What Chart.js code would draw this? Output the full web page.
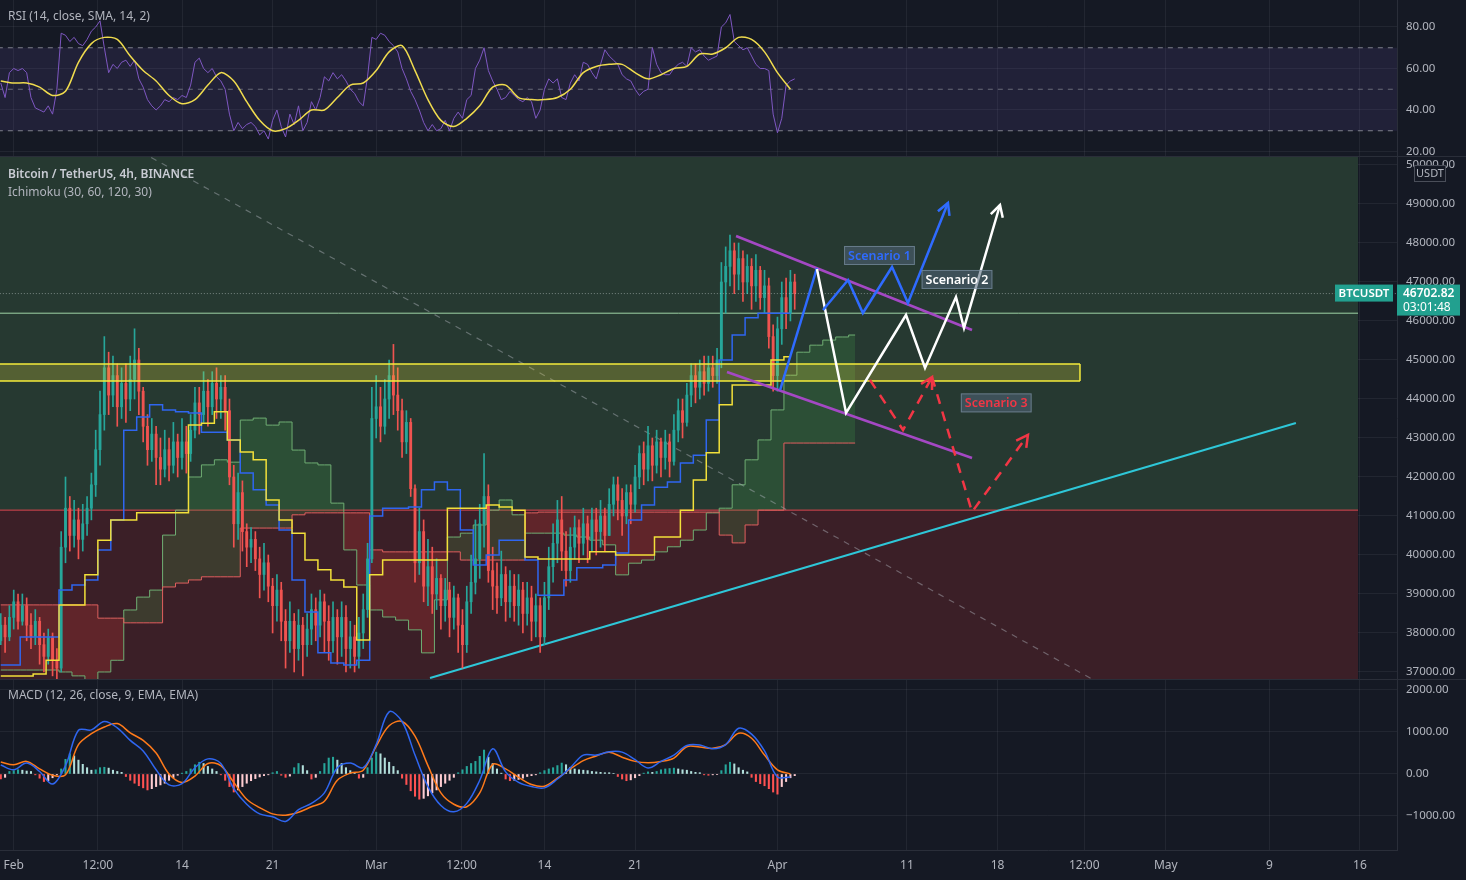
<!DOCTYPE html>
<html>
<head>
<meta charset="utf-8">
<script src="https://cdn.jsdelivr.net/npm/chart.js@4.4.1/dist/chart.umd.min.js"></script>
<style>
  html, body { margin: 0; padding: 0; background: #2a2e39; }
  body { width: 1466px; height: 880px; position: relative; overflow: hidden; font-family: "Noto Sans", sans-serif; }
  canvas { position: absolute; left: 0; background: #151924; }
  #rsi { top: 0; }
  #price { top: 157px; }
  #macd { top: 680px; }
  .title { position: absolute; left: 8px; color: #b2b5be; font-size: 12px; white-space: nowrap; }
  .title.main { color: #c8cbd3; font-weight: 600; }
</style>
</head>
<body>
<canvas id="rsi" width="1466" height="156"></canvas>
<canvas id="price" width="1466" height="522"></canvas>
<canvas id="macd" width="1466" height="200"></canvas>
<div class="title" style="top:7px">RSI (14, close, SMA, 14, 2)</div>
<div class="title main" style="top:165px">Bitcoin / TetherUS, 4h, BINANCE</div>
<div class="title" style="top:183px">Ichimoku (30, 60, 120, 30)</div>
<div class="title" style="top:686px">MACD (12, 26, close, 9, EMA, EMA)</div>
<script>
// time axis: days since Feb 1, candles every 8h starting at day -1
const xMin = -1.06, xMax = 106.86;
const tickDays = [0, 6.5, 13, 20, 28, 34.6, 41, 48, 59, 69, 76, 82.7, 89, 97, 104];
const tickLabels = ['Feb', '12:00', '14', '21', 'Mar', '12:00', '14', '21', 'Apr', '11', '18', '12:00', 'May', '9', '16'];
const rsiTicks = [20, 40, 60, 80];
const priceTicks = [37000, 38000, 39000, 40000, 41000, 42000, 43000, 44000, 45000, 46000, 47000, 48000, 49000, 50000];
const macdTicks = [-1000, 0, 1000, 2000];

// candles (8h), first open then closes/highs/lows, 3 per day
const firstOpen = 37800;
const closes = [
  38200, 37900, 38400, 38800, 38300, 38700, 38200, 37900, 38300, 37700, 37400, 37900,
  37300, 37100, 40200, 41200, 40500, 40900, 40400, 40800, 41200, 41800, 42700, 43600,
  44800, 44100, 44600, 43800, 44400, 44000, 44500, 45000, 44200, 43300, 42700, 43100,
  42500, 42200, 42700, 42300, 42900, 42500, 42900, 42600, 43200, 43900, 43600, 44200,
  43800, 44400, 44000, 44300, 43700, 42000, 40800, 41600, 40600, 40200, 40400, 39900,
  39500, 39800, 39200, 38700, 39100, 38300, 37800, 38300, 37600, 38200, 37700, 38100,
  38600, 38200, 38800, 38300, 37800, 38400, 37900, 38400, 37600, 37900, 37400, 38000,
  38600, 39900, 43500, 43800, 43300, 44000, 44600, 44100, 43700, 42900, 43400, 41700,
  39800, 40600, 39200, 39700, 39000, 39400, 38700, 39100, 38400, 38900, 38200, 37700,
  38800, 39300, 39900, 40800, 41500, 39600, 39200, 38900, 39500, 38800, 39200, 38700,
  39100, 38500, 38900, 38300, 38700, 37900, 38900, 39700, 40300, 40900, 40100, 39600,
  40200, 40700, 40300, 40800, 40400, 40900, 40600, 41000, 40500, 41300, 41800, 41400,
  41000, 41600, 41300, 42000, 42600, 42200, 42800, 42300, 42900, 42500, 42900, 42400,
  43200, 43700, 43400, 44100, 44600, 44300, 44700, 44400, 44800, 44600, 45000, 47000,
  47400, 47800, 47200, 47600, 47000, 47400, 46900, 47300, 46600, 46900, 45600, 44600,
  45800, 46600, 46200, 47000, 46702.82
];
const highs = [
  38500, 38400, 38700, 39100, 39000, 39000, 38900, 38500, 38600, 38400, 38000, 38100,
  38000, 37600, 40600, 42000, 41500, 41400, 41200, 41300, 41500, 42100, 43200, 44200,
  45600, 45200, 45100, 44900, 44800, 44900, 45100, 45800, 45300, 44300, 43600, 43500,
  43300, 43000, 43200, 43000, 43400, 43100, 43500, 43300, 43600, 44300, 44300, 44700,
  44500, 44700, 44800, 44600, 44600, 44000, 42300, 42100, 41900, 40800, 40700, 40600,
  40200, 40300, 40000, 39400, 39500, 39300, 38600, 38800, 38500, 38600, 38400, 38500,
  39000, 38900, 39100, 39000, 38700, 38800, 38600, 38800, 38700, 38300, 38200, 38400,
  39000, 40300, 44300, 44600, 44300, 44500, 45000, 45400, 44800, 44000, 43700, 43500,
  41800, 41200, 40900, 40400, 40200, 39900, 39500, 39400, 39300, 39200, 39000, 38600,
  39200, 40000, 40900, 41300, 42600, 41800, 40200, 39800, 40100, 39700, 39600, 39500,
  39500, 39300, 39300, 39200, 39000, 38900, 39300, 40200, 40800, 41400, 41500, 40600,
  40700, 41000, 40900, 41200, 41000, 41200, 41200, 41400, 41200, 41700, 42000, 42000,
  41700, 41800, 41800, 42300, 42800, 42900, 43300, 43000, 43200, 43000, 43200, 43100,
  43600, 44000, 44000, 44400, 44900, 44900, 45000, 45100, 45100, 45100, 45300, 47500,
  47900, 48200, 48000, 48000, 47800, 47700, 47600, 47700, 47400, 47300, 47100, 45900,
  46100, 47000, 47100, 47300, 47200
];
const lows = [
  37700, 37500, 37800, 38100, 38100, 38200, 37800, 37600, 37700, 37200, 37000, 37200,
  36900, 36700, 37000, 39800, 40100, 40200, 39900, 40100, 40500, 40900, 41500, 42300,
  43200, 43600, 43800, 43300, 43500, 43400, 43700, 44000, 43600, 42900, 42300, 42400,
  41800, 41800, 42000, 41900, 42100, 42000, 42200, 42100, 42400, 43000, 43100, 43400,
  43300, 43600, 43500, 43500, 43200, 41800, 40200, 40400, 40100, 39700, 39800, 39600,
  38900, 39100, 38800, 38000, 38300, 37800, 37100, 37500, 37000, 37300, 36900, 37400,
  37700, 37800, 37900, 37500, 37300, 37500, 37200, 37400, 37000, 37100, 37000, 37100,
  37600, 38400, 39800, 43000, 42900, 43100, 43500, 43600, 43200, 42500, 42600, 41500,
  39300, 39500, 38800, 38700, 38500, 38600, 38100, 38300, 37900, 38100, 37500, 37100,
  37500, 38500, 39000, 39400, 40200, 39300, 38600, 38500, 38700, 38300, 38400, 38300,
  38200, 38000, 38200, 37800, 37900, 37500, 37700, 38600, 39300, 39800, 39600, 39200,
  39300, 39900, 39800, 40000, 39800, 40100, 40000, 40200, 40100, 40500, 41000, 40900,
  40500, 40800, 40800, 41100, 41700, 41800, 41900, 41900, 42100, 42000, 42200, 42000,
  42300, 42900, 43000, 43300, 43800, 43900, 44000, 44100, 44200, 44300, 44400, 44800,
  46200, 46900, 46700, 46800, 46500, 46700, 46300, 46500, 46300, 46200, 45300, 44200,
  44200, 45400, 45800, 46000, 46300
];

// Ichimoku (daily samples, from day -1)
const conversionLine = [
  37180, 37180, 37900, 37900, 37900, 39100, 39230, 39360, 40130, 40900, 43200, 43540,
  43850, 43720, 43670, 43640, 43150, 43150, 42950, 42100, 41670, 41280, 40640, 39360,
  38540, 37490, 37230, 37180, 37300, 41000, 41200, 41200, 41230, 41670, 41870, 41670,
  40640, 39740, 40000, 40380, 40380, 39870, 38970, 38970, 39360, 39670, 39670, 39740,
  40050, 40900, 41280, 41740, 41870, 42360, 42560, 43460, 45000, 45640, 46080, 46200,
  46200, 46200
];
const baseLine = [
  36900, 36900, 36900, 36950, 37300, 38720, 38720, 39490, 40380, 40900, 40900, 41080,
  41080, 41080, 41080, 43330, 43380, 43670, 42950, 42640, 42440, 41410, 40900, 40560,
  39870, 39620, 39360, 39180, 37820, 39490, 39870, 39870, 39870, 39870, 39870, 41200,
  41200, 41200, 41280, 41230, 41150, 39950, 39900, 39900, 39900, 39900, 40080, 40080,
  40000, 40000, 40000, 40460, 40460, 41150, 41920, 42620, 43850, 44360, 44360, 44360,
  45000, 45080
];
const leadingSpanA = [
  37050, 37050, 37050, 37050, 37050, 37000, 36900, 36800, 37000, 37300, 38590, 38920,
  39100, 40510, 41150, 42000, 42310, 42440, 42380, 43460, 43510, 43330, 43410, 42690,
  42360, 42310, 41330, 40130, 39230, 38590, 38410, 38330, 38080, 37490, 38850, 40460,
  40560, 40770, 41150, 41410, 41030, 40560, 40560, 40560, 40510, 40460, 40380, 40260,
  39490, 39790, 39870, 40080, 40210, 40380, 40640, 41080, 41200, 41800, 42440, 42950,
  43720, 44610, 45200, 45380, 45510, 45590, 45640
];
const leadingSpanB = [
  38720, 38720, 38720, 38720, 38720, 38720, 38720, 38720, 38380, 38380, 38260, 38260,
  38260, 39180, 39280, 39360, 39440, 39440, 39440, 40690, 40690, 40690, 40690, 41030,
  41080, 41080, 41080, 41080, 41080, 40130, 40080, 40080, 40080, 40080, 40080, 40080,
  39870, 39870, 39870, 39870, 39870, 41080, 41100, 41100, 41100, 41100, 41100, 41100,
  41100, 41100, 41100, 41100, 41100, 41100, 41100, 41100, 40510, 40310, 40770, 41150,
  41150, 42870, 42870, 42870, 42870, 42870, 42870
];

// RSI (8h) and its SMA (daily)
const rsiValues = [
  53, 46, 58, 60, 59, 60, 58, 46, 41, 40, 39, 42, 38, 50, 77, 76, 73, 75, 72, 71, 74,
  78, 80, 83, 70, 58, 62, 60, 63, 64, 61, 64, 55, 51, 45, 42, 40, 42, 45, 44, 46, 45,
  47, 46, 52, 63, 65, 60, 58, 60, 56, 54, 50, 38, 30, 34, 31, 33, 34, 32, 28, 30, 26,
  35, 40, 32, 27, 38, 33, 42, 30, 34, 44, 40, 46, 56, 54, 58, 55, 57, 54, 50, 48, 44,
  42, 56, 75, 74, 77, 76, 73, 71, 68, 60, 55, 49, 45, 40, 34, 30, 33, 30, 31, 35, 30,
  36, 39, 36, 45, 47, 60, 64, 70, 59, 54, 50, 45, 46, 49, 47, 45, 44, 46, 44, 36, 40,
  50, 55, 53, 55, 46, 45, 53, 57, 54, 63, 62, 58, 55, 62, 69, 66, 64, 62, 57, 55, 54,
  50, 47, 49, 50, 70, 62, 58, 57, 57, 60, 62, 63, 61, 70, 68, 69, 66, 64, 65, 66, 80,
  82, 86, 73, 71, 69, 70, 66, 62, 60, 60, 59, 38, 29, 36, 52, 54, 55
];
const rsiSma = [
  54, 53, 53, 51, 47, 49, 63, 72, 75, 74, 66, 59, 54, 47, 43, 45, 52, 58, 54, 44, 35,
  30, 31, 35, 40, 40, 46, 52, 53, 59, 68, 71, 59, 45, 35, 32, 36, 42, 51, 52, 46, 45,
  45, 46, 50, 58, 61, 62, 62, 58, 55, 57, 60, 61, 67, 67, 70, 75, 74, 68, 58, 50
];

// MACD (daily lines, 8h histogram)
const macdLine = [
  214, 100, 260, 60, -240, 200, 1040, 1050, 1250, 1100, 800, 550, 100, -260, -230, 150,
  360, 250, -350, -720, -950, -1020, -1130, -850, -700, -450, 150, 260, 150, 700, 1480,
  1250, 450, -300, -750, -900, -700, -150, 600, 50, -200, -300, -330, -120, 150, 450,
  450, 530, 520, 340, 143, 300, 450, 680, 690, 600, 700, 1090, 950, 550, -70, -70
];
const signalLine = [
  286, 220, 300, 120, -30, -20, 700, 960, 1120, 1200, 980, 800, 500, 0, -200, -50,
  250, 200, -200, -600, -800, -950, -980, -910, -780, -650, -150, 20, 90, 660, 1150,
  1250, 900, 200, -450, -720, -780, -450, 230, 120, -80, -250, -290, -100, 120, 320,
  430, 520, 400, 300, 270, 300, 380, 650, 640, 610, 700, 970, 850, 450, 100, 0
];
const histValues = [
  -120, -80, 60, 80, 100, 90, 70, 60, -20, -100, -180, -160, -90, -20, 120, 350, 480, 430,
  330, 230, 150, 90, 100, 150, 160, 140, 90, 60, 40, -60, -150, -220, -280, -330, -380, -350,
  -300, -260, -220, -150, -90, -30, 20, 60, 120, 220, 280, 250, 180, 120, 60, -20, -150, -300,
  -430, -380, -300, -220, -160, -110, -70, -40, -20, 30, 60, -30, -80, -50, 150, 250, 200, 80,
  -120, -80, 60, 250, 380, 400, 330, 250, 150, 80, 20, -100, -80, 150, 380, 520, 480, 380,
  280, 180, 80, -100, -250, -400, -530, -600, -580, -520, -450, -380, -300, -220, -150, -80, 30, 100,
  180, 250, 300, 420, 570, 400, 250, 120, 20, -120, -160, -150, -130, -100, -60, -40, -20, 30,
  80, 120, 150, 200, 260, 220, 160, 120, 100, 90, 80, 60, 50, 40, 30, 30, 10, -60,
  -120, -160, -140, -90, -40, 20, 50, 40, 60, 100, 120, 130, 140, 120, 100, 90, 60, 40,
  30, -20, -30, -20, -10, 80, 220, 280, 240, 150, 90, 50, -80, -180, -230, -280, -350, -430,
  -480, -300, -180, -90, -40
];

// drawn levels and trendlines (day, price)
const supportTop = 41150, boxTop = 51000, boxEnd = 103.85;
const greenLevel = 46200;
const zoneHigh = 44900, zoneLow = 44460, zoneEnd = 82.37;
const diagonalDashed = [[9, 50490], [84, 36690]];
const cyanTrend = [[32.16, 36846], [99.05, 43385]];
const channelUpper = [[55.8, 48179], [74.03, 45769]];
const channelLower = [[55.1, 44692], [74.03, 42487]];
const scenario1a = [[59.2, 44230], [62.05, 47359]];
const scenario1b = [[62.52, 46282], [64.45, 47051], [65.6, 46205], [67.85, 47385], [69.08, 46462], [72.17, 49026]];
const scenario2 = [[62.05, 47333], [64.3, 43641], [68.93, 46154], [70.4, 44795], [72.79, 46615], [73.41, 45821], [76.19, 48974]];
const scenario3a = [[66.15, 44487], [68.7, 43205], [70.94, 44564]];
const scenario3b = [[70.94, 44564], [74.03, 41103], [78.35, 43077]];
const scenarioLabels = [
  { text: 'Scenario 1', day: 66.88, price: 47680, color: '#2f6bff' },
  { text: 'Scenario 2', day: 72.87, price: 47065, color: '#ffffff' },
  { text: 'Scenario 3', day: 75.9, price: 43900, color: '#f23645' }
];
const lastPrice = 46702.82, countdown = '03:01:48';

Chart.defaults.font.family = '"Noto Sans", sans-serif';
const gridColor = 'rgba(240,243,250,0.06)';
const axisText = '#b2b5be';

const candleDay = i => -1 + i / 3;
const pts = arr => arr.map(p => ({ x: p[0], y: p[1] }));
const daily = (arr, start) => arr.map((v, i) => ({ x: start + i, y: v }));
const flat = (y, x0, x1) => [{ x: x0, y: y }, { x: x1, y: y }];

function line(data, color, width, extra) {
  return Object.assign({ type: 'line', data: data, borderColor: color, borderWidth: width,
    pointRadius: 0, fill: false, tension: 0 }, extra || {});
}

function noPad(s) {
  s.paddingTop = 0; s.paddingBottom = 0; s.paddingLeft = 0; s.paddingRight = 0;
}

function baseOptions(yMin, yMax, yTicks, showX, fmt) {
  return {
    responsive: false, animation: false, devicePixelRatio: 1,
    layout: { padding: 0 },
    plugins: { legend: { display: false }, tooltip: { enabled: false } },
    scales: {
      x: {
        type: 'linear', min: xMin, max: xMax, offset: false,
        afterBuildTicks: s => { s.ticks = tickDays.map(v => ({ value: v })); },
        afterFit: s => { s.height = showX ? 30 : 0; noPad(s); },
        grid: { color: gridColor, drawTicks: false, offset: false },
        border: { display: showX, color: '#2a2e39' },
        ticks: { display: showX, autoSkip: false, maxRotation: 0, padding: 8, color: axisText,
          font: { size: 12 }, callback: (v, i) => tickLabels[i] }
      },
      y: {
        position: 'right', min: yMin, max: yMax,
        afterBuildTicks: s => { s.ticks = yTicks.map(v => ({ value: v })); },
        afterFit: s => { s.width = 69; noPad(s); },
        grid: { color: gridColor, drawTicks: false },
        border: { display: true, color: '#2a2e39' },
        ticks: { padding: 9, color: axisText, font: { size: 11.5 },
          callback: fmt || (v => v.toFixed(2)) }
      }
    }
  };
}

function setOrder(datasets) {
  datasets.forEach((d, i) => { d.order = datasets.length - i; });
  return datasets;
}

// ---------- RSI ----------
const rsiDatasets = setOrder([
  line(flat(70, -2, 110), 'rgba(0,0,0,0)', 0, { fill: { value: 30 }, backgroundColor: 'rgba(126,87,194,0.12)' }),
  line(flat(70, -2, 110), 'rgba(150,153,162,0.8)', 1, { borderDash: [5, 5] }),
  line(flat(50, -2, 110), 'rgba(150,153,162,0.6)', 1, { borderDash: [5, 5] }),
  line(flat(30, -2, 110), 'rgba(150,153,162,0.8)', 1, { borderDash: [5, 5] }),
  line(rsiValues.map((v, i) => ({ x: candleDay(i), y: v })), '#7e57c2', 1),
  line(daily(rsiSma, -1), '#f0dc4e', 1.5, { tension: 0.3 })
]);
new Chart(document.getElementById('rsi'), {
  type: 'line',
  data: { datasets: rsiDatasets },
  options: baseOptions(17.83, 93.01, rsiTicks, false)
});

// ---------- Price ----------
const opens = closes.map((c, i) => i ? closes[i - 1] : firstOpen);
const candleColors = closes.map((c, i) => c >= opens[i] ? '#26a69a' : '#ef5350');

const priceDatasets = [
  line(flat(boxTop, -2, boxEnd), 'rgba(0,0,0,0)', 0, { fill: { value: supportTop }, backgroundColor: '#263931' }),
  line(flat(supportTop, -2, boxEnd), '#e0464e', 1, { fill: { value: 20000 }, backgroundColor: '#3b1f27' }),
  line(daily(leadingSpanA, -1), '#6fae73', 1, { stepped: 'middle' }),
  line(daily(leadingSpanB, -1), '#e0605f', 1, { stepped: 'middle' }),
  line(flat(greenLevel, -2, boxEnd), '#9ed4a6', 1),
  line(pts(diagonalDashed), 'rgba(178,181,190,0.45)', 1.2, { borderDash: [6, 6] }),
  line(pts(cyanTrend), '#2ec7d8', 2),
  {
    type: 'bar', grouped: false, barThickness: 1, borderWidth: 0,
    data: closes.map((c, i) => ({ x: candleDay(i), y: [lows[i], highs[i]] })),
    backgroundColor: candleColors
  },
  {
    type: 'bar', grouped: false, barThickness: 2.2, borderWidth: 0, minBarLength: 1,
    data: closes.map((c, i) => ({ x: candleDay(i), y: [opens[i], c] })),
    backgroundColor: candleColors
  },
  line(daily(conversionLine, -1), '#2f66f0', 1.5, { stepped: 'middle' }),
  line(daily(baseLine, -1), '#f2e03a', 1.5, { stepped: 'middle' }),
  line(flat(zoneHigh, -2, zoneEnd), '#f5eb3b', 1.5, { fill: { value: zoneLow }, backgroundColor: 'rgba(235,220,60,0.24)' }),
  line(flat(zoneLow, -2, zoneEnd), '#f5eb3b', 1.5),
  line([{ x: zoneEnd, y: zoneHigh }, { x: zoneEnd, y: zoneLow }], '#f5eb3b', 1.5),
  line(flat(lastPrice, -2, 110), 'rgba(190,200,200,0.55)', 1, { borderDash: [1, 2] }),
  line(pts(channelUpper), '#a448c4', 2.5),
  line(pts(channelLower), '#a448c4', 2.5),
  line(pts(scenario3a), '#f23645', 2.5, { borderDash: [10, 8], arrowHead: true }),
  line(pts(scenario3b), '#f23645', 2.5, { borderDash: [10, 8], arrowHead: true }),
  line(pts(scenario1a), '#2f6bff', 2.5),
  line(pts(scenario2), '#ffffff', 2.5, { arrowHead: true }),
  line(pts(scenario1b), '#2f6bff', 2.5, { arrowHead: true })
];
// cloud between leading spans
priceDatasets[2].fill = { target: 3, above: 'rgba(67,160,71,0.22)', below: 'rgba(244,67,54,0.2)' };
setOrder(priceDatasets);

const priceOverlay = {
  id: 'priceOverlay',
  afterDatasetsDraw(chart) {
    const ctx = chart.ctx, xs = chart.scales.x, ys = chart.scales.y;
    ctx.save();
    // arrow heads
    chart.data.datasets.forEach((ds, i) => {
      if (!ds.arrowHead) return;
      const el = chart.getDatasetMeta(i).data;
      const a = el[el.length - 2], b = el[el.length - 1];
      const ang = Math.atan2(b.y - a.y, b.x - a.x), L = 13;
      ctx.strokeStyle = ds.borderColor; ctx.lineWidth = 2.5; ctx.setLineDash([]);
      ctx.beginPath();
      ctx.moveTo(b.x - L * Math.cos(ang - 0.5), b.y - L * Math.sin(ang - 0.5));
      ctx.lineTo(b.x, b.y);
      ctx.lineTo(b.x - L * Math.cos(ang + 0.5), b.y - L * Math.sin(ang + 0.5));
      ctx.stroke();
    });
    // scenario labels
    ctx.font = '600 12.5px "Noto Sans", sans-serif';
    ctx.textAlign = 'center'; ctx.textBaseline = 'middle';
    scenarioLabels.forEach(l => {
      const x = xs.getPixelForValue(l.day), y = ys.getPixelForValue(l.price);
      const w = ctx.measureText(l.text).width + 8, h = 19;
      ctx.fillStyle = 'rgba(80,100,120,0.55)';
      ctx.fillRect(x - w / 2, y - h / 2, w, h);
      ctx.strokeStyle = 'rgba(140,160,180,0.55)'; ctx.lineWidth = 1;
      ctx.strokeRect(x - w / 2 + 0.5, y - h / 2 + 0.5, w - 1, h - 1);
      ctx.fillStyle = l.color;
      ctx.fillText(l.text, x, y + 0.5);
    });
    ctx.restore();
  },
  afterDraw(chart) {
    const ctx = chart.ctx, ys = chart.scales.y;
    const py = ys.getPixelForValue(lastPrice), left = ys.left;
    ctx.save();
    ctx.textBaseline = 'middle';
    ctx.fillStyle = '#22a08f';
    ctx.fillRect(left, py - 9, 63, 31);
    ctx.fillRect(left - 62, py - 9, 58, 17);
    ctx.fillStyle = '#ffffff';
    ctx.font = '600 12px "Noto Sans", sans-serif';
    ctx.textAlign = 'left';
    ctx.fillText(lastPrice.toFixed(2), left + 6, py);
    ctx.font = '12px "Noto Sans", sans-serif';
    ctx.fillText(countdown, left + 6, py + 14);
    ctx.font = '600 11.5px "Noto Sans", sans-serif';
    ctx.textAlign = 'center';
    ctx.fillText('BTCUSDT', left - 33, py);
    // currency box
    ctx.fillStyle = '#151924';
    ctx.fillRect(left + 17, ys.top + 8, 32, 17);
    ctx.strokeStyle = '#4a4e59'; ctx.lineWidth = 1;
    ctx.strokeRect(left + 17.5, ys.top + 8.5, 31, 16);
    ctx.fillStyle = axisText;
    ctx.font = '11px "Noto Sans", sans-serif';
    ctx.fillText('USDT', left + 33, ys.top + 17);
    ctx.restore();
  }
};

new Chart(document.getElementById('price'), {
  type: 'line',
  data: { datasets: priceDatasets },
  options: baseOptions(36820, 50205, priceTicks, false),
  plugins: [priceOverlay]
});

// ---------- MACD ----------
const histColors = histValues.map((v, i) => {
  const p = i ? histValues[i - 1] : 0;
  if (v >= 0) return v > p ? '#26a69a' : '#b2dfdb';
  return v < p ? '#ff5252' : '#ffcdd2';
});
const macdDatasets = setOrder([
  {
    type: 'bar', grouped: false, barThickness: 1.4, borderWidth: 0,
    data: histValues.map((v, i) => ({ x: candleDay(i), y: v })),
    backgroundColor: histColors
  },
  line(daily(signalLine, -1), '#ff7a1a', 1.5, { tension: 0.35 }),
  line(daily(macdLine, -1), '#2f66f0', 1.5, { tension: 0.35 })
]);
new Chart(document.getElementById('macd'), {
  type: 'line',
  data: { datasets: macdDatasets },
  options: baseOptions(-1810, 2238, macdTicks, true,
    v => v < 0 ? '\u2212' + Math.abs(v).toFixed(2) : v.toFixed(2))
});
</script>
</body>
</html>
